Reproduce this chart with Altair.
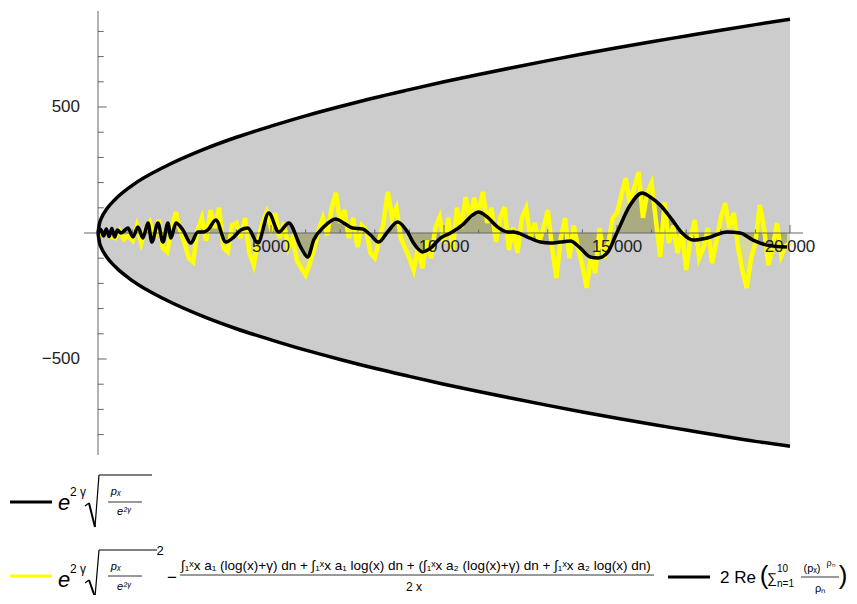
import altair as alt
import pandas as pd

FONT = "Liberation Sans"

# ---- envelope  e^{2γ} sqrt(p_x / e^{2γ}) ----
env_x = [0, 50, 100, 250, 500, 1000, 2000, 3000, 4000, 5000, 6000, 7000, 8000, 9000, 10000,
         11000, 12000, 13000, 14000, 15000, 16000, 17000, 18000, 19000, 20000]
env_upper = [0, 42, 60, 95, 134, 190, 268, 329, 380, 424, 465, 502, 537, 569, 600,
             629, 657, 684, 710, 735, 759, 782, 805, 827, 848]
env_lower = [0, -42, -60, -95, -134, -190, -268, -329, -380, -424, -465, -502, -537, -569, -600,
             -629, -657, -684, -710, -735, -759, -782, -805, -827, -846]

# ---- yellow (noisy) series ----
yellow_x = list(range(0, 20001, 125))
yellow_y = [
    0, -10, 5, -15, -20, 10, -25, -10,
    -30, 30, -40, 20, 44, -20, 52, -60,
    -75, 20, 83, 10, -40, -100, -115, 10,
    60, -30, 91, 20, 100, -60, -75, 30,
    40, -20, 60, -80, -127, -30, 40, 83,
    20, 79, -20, 40, -60, -20, -110, -140,
    -167, -120, -60, 10, 60, -10, 100, 159,
    40, 91, -20, 60, -56, 30, 10, -80,
    -99, -30, 40, 163, 60, 100, -20, -60,
    -100, -147, -60, -140, -30, -100, 20, 63,
    -40, 60, -67, 100, 20, 143, 60, 139,
    80, 163, 40, 100, -36, 60, 103, -67,
    20, -79, 60, 99, -20, 40, -40, 20,
    91, -60, -179, -20, 60, -100, 30, -60,
    -130, -218, -90, -160, 20, -100, -40, 60,
    80, 150, 218, 120, 180, 242, 60, 160,
    198, 50, -95, 120, -40, 30, -80, 10,
    -147, -20, 52, -100, -60, 20, -120, -30,
    60, 119, 20, 80, -60, -150, -218, -100,
    -40, 111, 20, -127, -60, 40, -90, -50,
    -40,
]

# ---- black smooth curve  2 Re(sum ...) ----
black_x = [0, 80, 160, 240, 320, 400, 480, 560, 664, 866, 1010, 1154, 1299, 1443, 1558, 1732,
           1876, 2020, 2107, 2251, 2453, 2684, 2886, 3059, 3175, 3405, 3694, 3925, 4127, 4329,
           4618, 4935, 5224, 5512, 5859, 6061, 6234, 6522, 6869, 7100, 7359, 7648, 7879, 8110,
           8369, 8658, 8947, 9120, 9380, 9610, 9899, 10188, 10534, 10823, 10996, 11255, 11544,
           11833, 12006, 12410, 12785, 13074, 13362, 13651, 13939, 14228, 14459, 14719, 15007,
           15382, 15729, 15960, 16248, 16595, 16883, 17201, 17605, 18182, 18557, 18932, 19336,
           19913]
black_y = [0, 14, -12, 16, -14, 18, -16, 12, 0, 20, -16, 24, -20, 40, -36, 40,
           -36, 40, -20, 40, 12, -40, 4, 4, 12, 52, -36, -16, 12, 20,
           -40, 79, 4, 40, -56, -95, -28, 24, 56, 40, 20, 16, -8, -36,
           4, 44, 4, -40, -75, -60, -20, 0, 32, 71, 83, 63, 24,
           4, 4, -16, -36, -40, -36, -32, -60, -95, -99, -79, 4,
           111, 159, 143, 111, 52, 0, -28, -20, 4, 0, -28, -48,
           -56]

# ---- ticks ----
x_major = [5000, 10000, 15000, 20000]
x_labels = ["5000", "10\u202f000", "15\u202f000", "20\u202f000"]
x_minor = [1000, 2000, 3000, 4000, 6000, 7000, 8000, 9000, 11000, 12000, 13000, 14000,
           16000, 17000, 18000, 19000]
y_major = [500, -500]
y_labels = ["500", "\u2212500"]
y_minor = [100, 200, 300, 400, 600, 700, 800, -100, -200, -300, -400, -600, -700, -800]

X_DOMAIN = [-405, 20376]
Y_DOMAIN = [-881, 881]
W, H = 719, 444
OX, OY = 84, 11  # page position of plot origin

xs = alt.Scale(domain=X_DOMAIN, nice=False, zero=False)
ys = alt.Scale(domain=Y_DOMAIN, nice=False, zero=False)


def X(f):
    return alt.X(f, type="quantitative", scale=xs, axis=None)


def Y(f):
    return alt.Y(f, type="quantitative", scale=ys, axis=None)


env_df = pd.DataFrame({"x": env_x, "up": env_upper, "lo": env_lower})
yel_df = pd.DataFrame({"x": yellow_x, "y": yellow_y})
yel_df["zero"] = 0
blk_df = pd.DataFrame({"x": black_x, "y": black_y})
blk_df["zero"] = 0

AXC = "#666666"

gray = alt.Chart(env_df).mark_area(color="#cccccc", interpolate="monotone").encode(
    x=X("x"), y=Y("up"), y2="lo")
yfill = alt.Chart(yel_df).mark_area(color="#ffff00", opacity=0.2).encode(
    x=X("x"), y=Y("y"), y2="zero")
bfill = alt.Chart(blk_df).mark_area(color="#000000", opacity=0.2, interpolate="monotone").encode(
    x=X("x"), y=Y("y"), y2="zero")
yline = alt.Chart(yel_df).mark_line(color="#ffff00", strokeWidth=4.5).encode(
    x=X("x"), y=Y("y"))

# axes
ax_df = pd.DataFrame({"x0": [X_DOMAIN[0]], "x1": [X_DOMAIN[1]], "y0": [Y_DOMAIN[0]], "y1": [Y_DOMAIN[1]], "z": [0]})
xaxis = alt.Chart(ax_df).mark_rule(color=AXC, strokeWidth=1).encode(x=X("x0"), x2="x1", y=Y("z"))
yaxis = alt.Chart(ax_df).mark_rule(color=AXC, strokeWidth=1).encode(x=X("z"), y=Y("y0"), y2="y1")

xt_maj = pd.DataFrame({"x": x_major, "lab": x_labels})
xt_maj["y0"] = 0
xt_maj["y1"] = 32
xt_min = pd.DataFrame({"x": x_minor})
xt_min["y0"] = 0
xt_min["y1"] = 14
yt_maj = pd.DataFrame({"y": y_major, "lab": y_labels})
yt_maj["x0"] = 0
yt_maj["x1"] = 250
yt_min = pd.DataFrame({"y": y_minor})
yt_min["x0"] = 0
yt_min["x1"] = 165

xtick1 = alt.Chart(xt_maj).mark_rule(color=AXC, strokeWidth=1).encode(x=X("x"), y=Y("y0"), y2="y1")
xtick2 = alt.Chart(xt_min).mark_rule(color=AXC, strokeWidth=1).encode(x=X("x"), y=Y("y0"), y2="y1")
ytick1 = alt.Chart(yt_maj).mark_rule(color=AXC, strokeWidth=1).encode(y=Y("y"), x=X("x0"), x2="x1")
ytick2 = alt.Chart(yt_min).mark_rule(color=AXC, strokeWidth=1).encode(y=Y("y"), x=X("x0"), x2="x1")
xlab = alt.Chart(xt_maj).mark_text(font=FONT, fontSize=17, color="#222222", baseline="middle",
                                   align="center", dy=14).encode(x=X("x"), y=Y("y0"), text="lab:N")
ylab = alt.Chart(yt_maj).mark_text(font=FONT, fontSize=17, color="#222222", baseline="middle",
                                   align="right", dx=-18).encode(x=X("x0"), y=Y("y"), text="lab:N")

bline = alt.Chart(blk_df).mark_line(color="#000000", strokeWidth=3.5, interpolate="monotone").encode(
    x=X("x"), y=Y("y"))
eup = alt.Chart(env_df).mark_line(color="#000000", strokeWidth=3.5, interpolate="monotone").encode(
    x=X("x"), y=Y("up"))
elo = alt.Chart(env_df).mark_line(color="#000000", strokeWidth=3.5, interpolate="monotone").encode(
    x=X("x"), y=Y("lo"))

# ---- legend (drawn in pixel space below the plot) ----
one = pd.DataFrame({"a": [0]})


def txt(s, px, py, size, align="center", style="normal", weight="normal"):
    return alt.Chart(one).mark_text(text=s, font=FONT, fontSize=size, align=align, baseline="middle",
                                    fontStyle=style, fontWeight=weight, color="#000000").encode(
        x=alt.value(px - OX), y=alt.value(py - OY))


def seg(x1, y1, x2, y2, w=1.0, color="#000000"):
    return alt.Chart(one).mark_rule(strokeWidth=w, color=color).encode(
        x=alt.value(x1 - OX), x2=alt.value(x2 - OX), y=alt.value(y1 - OY), y2=alt.value(y2 - OY))


numer = ("\u222b\u2081\u02e3x a\u2081 (log(x)+\u03b3) dn + \u222b\u2081\u02e3x a\u2081 log(x) dn + "
         "(\u222b\u2081\u02e3x a\u2082 (log(x)+\u03b3) dn + \u222b\u2081\u02e3x a\u2082 log(x) dn)")

legend = [
    # row 1
    seg(10, 502, 52, 502, 3),
    txt("e", 64, 503, 22, style="italic"),
    txt("2 \u03b3", 70, 492, 12, align="left"),
    seg(85, 506, 89, 503, 1.2), seg(89, 503, 95, 527, 2), seg(95, 527, 99, 475, 1.2), seg(99, 475, 152, 475, 1.2),
    txt("p\u2093", 116, 492, 11, style="italic"),
    seg(108, 502, 142, 502, 0.8),
    txt("e\u00b2\u1d5e", 124, 512, 11, style="italic"),
    # row 2
    seg(10, 576, 52, 576, 3, "#ffff00"),
    txt("e", 64, 580, 22, style="italic"),
    txt("2 \u03b3", 70, 569, 12, align="left"),
    seg(85, 583, 89, 580, 1.2), seg(89, 580, 95, 597, 2), seg(95, 597, 99, 550, 1.2), seg(99, 550, 157, 550, 1.2),
    txt("2", 160, 551, 13),
    txt("p\u2093", 116, 567, 11, style="italic"),
    seg(108, 576, 142, 576, 0.8),
    txt("e\u00b2\u1d5e", 124, 587, 11, style="italic"),
    txt("\u2212", 172, 578, 17),
    txt(numer, 181, 566, 13.5, align="left"),
    seg(180, 575, 654, 575, 0.8),
    txt("2 x", 414, 587, 12),
    seg(668, 577, 710, 577, 3),
    txt("2 Re", 720, 578, 17, align="left"),
    txt("(", 764, 576, 26),
    txt("\u2211", 772, 579, 14),
    txt("10", 777, 569, 10, align="left"),
    txt("n=1", 777, 584, 10, align="left"),
    txt("(p\u2093)", 812, 569, 11),
    txt("\u03c1\u2099", 831, 563, 9),
    seg(801, 577, 839, 577, 0.8),
    txt("\u03c1\u2099", 820, 589, 11),
    txt(")", 843, 576, 26),
]

chart = alt.layer(
    gray, yfill, bfill, yline,
    xaxis, yaxis, xtick1, xtick2, ytick1, ytick2, xlab, ylab,
    bline, eup, elo,
    *legend,
).properties(
    width=W, height=H,
    padding={"left": 76, "top": 3, "right": 46, "bottom": 140},
    autosize=alt.AutoSizeParams(type="none"),
).configure_view(strokeWidth=0)

chart.save("out.html", embed_options={"renderer": "svg", "actions": False})
